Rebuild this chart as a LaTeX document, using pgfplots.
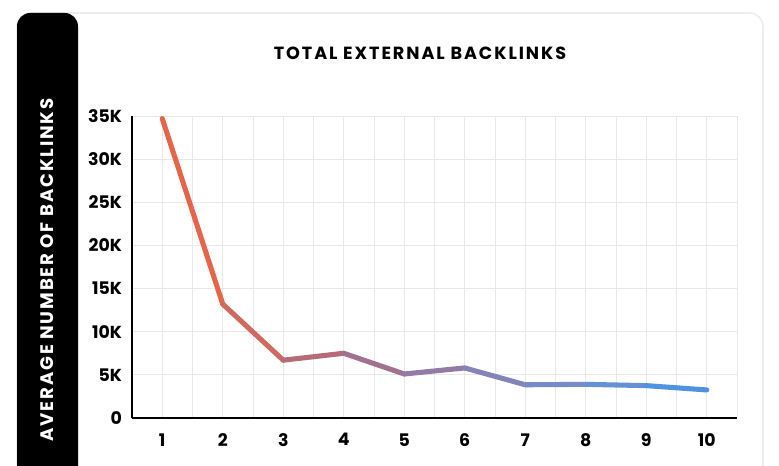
\documentclass[border=0pt]{standalone}
\usepackage{pgfplots}
\pgfplotsset{compat=1.18}
\usepackage{fontspec}
\setmainfont{Poppins}
\definecolor{gridgray}{HTML}{E8E8E8}
\definecolor{cardgray}{HTML}{EDEDED}
\begin{document}
\begin{tikzpicture}[x=0.75pt,y=0.75pt]
% bounding box = 779 x 466 px
\path[use as bounding box] (0,0) rectangle (779,466);
% card (pixel coords, y up: Y = 466 - py)
\draw[cardgray, line width=1.2pt, rounded corners=10pt] (17,-20) -- (17,453) -- (763,453) -- (763,-20);
\fill[black, rounded corners=10pt] (17,-20) -- (17,453) -- (78,453) [sharp corners]-- (78,-20) -- cycle;
\node[text=white, rotate=90, font=\bfseries\fontsize{13.6}{15}\selectfont\addfontfeatures{LetterSpace=10}] at (47,196) {AVERAGE NUMBER OF BACKLINKS};
\node[font=\fontsize{13.2}{15}\selectfont\bfseries\addfontfeatures{LetterSpace=11}] at (420,413) {TOTAL EXTERNAL BACKLINKS};
\begin{axis}[
  at={(99pt,36pt)}, anchor=south west,
  scale only axis, width=453.75pt, height=226.5pt,
  xmin=0.5, xmax=10.5, ymin=0, ymax=35000,
  axis lines*=left,
  x axis line style={line width=2.2pt},
  y axis line style={line width=1.8pt},
  xtick={1,...,10},
  minor xtick={0.5,1.5,...,10.5},
  ytick={0,5000,...,35000},
  yticklabels={0,5K,10K,15K,20K,25K,30K,35K},
  major tick length=0pt, minor tick length=0pt,
  grid=both,
  major grid style={gridgray, line width=0.6pt},
  minor grid style={gridgray, line width=0.6pt},
  ticklabel style={font=\bfseries\fontsize{13}{15}\selectfont},
  /pgf/number format/assume math mode=true,
  xticklabel style={yshift=-8pt},
  yticklabel style={xshift=-4pt},
  scaled y ticks=false,
  colormap={grad}{rgb255(0)=(236,98,64); rgb255(1)=(222,104,86); rgb255(3)=(168,110,132); rgb255(5)=(140,128,178); rgb255(7)=(110,144,208); rgb255(9)=(70,146,230)},
  clip=false,
]
\addplot[mesh, point meta=x, line width=3.8pt, line join=round, line cap=round] coordinates {
(1,34700) (2,13200) (3,6700) (4,7500) (5,5100) (6,5800) (7,3850) (8,3900) (9,3750) (10,3250)
};
\end{axis}
\end{tikzpicture}
\end{document}
